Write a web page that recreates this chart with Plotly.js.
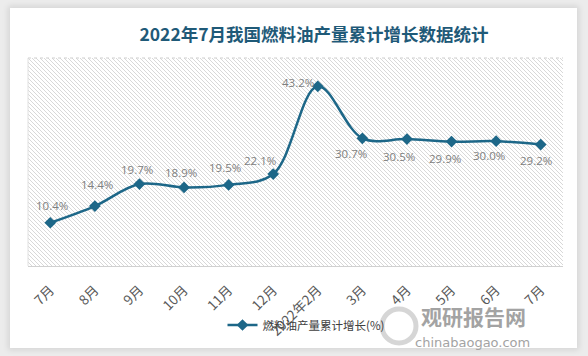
<!DOCTYPE html>
<html>
<head>
<meta charset="utf-8">
<script src="https://cdn.plot.ly/plotly-3.0.1.min.js"></script>
<style>
  html, body { margin: 0; padding: 0; background: #ececec; }
  #wrap { position: relative; width: 588px; height: 356px; overflow: hidden; background: #ececec; }
  #card { position: absolute; left: 10px; top: 8px; width: 567px; height: 340px; background: #ffffff; box-shadow: 0 0 6px 2px rgba(0,0,0,0.10); }
  #chart { position: absolute; left: 0; top: 0; width: 588px; height: 356px; }
</style>
</head>
<body>
<div id="wrap"><div id="card"></div><div id="chart"></div></div>
<script>
const categories = ["7月", "8月", "9月", "10月", "11月", "12月", "2022年2月", "3月", "4月", "5月", "6月", "7月"];
const growth = [10.4, 14.4, 19.7, 18.9, 19.5, 22.1, 43.2, 30.7, 30.5, 29.9, 30.0, 29.2];
const seriesName = "燃料油产量累计增长(%)";
const titleText = "2022年7月我国燃料油产量累计增长数据统计";

// label offsets in pixels (style only): [dx, dy up]
const labelDx = [2, 2, -2, -3, -4, -13, -20, -11, -8, -7, -7, -5];
const labelDy = [17, 22, 15, 15, 17, 14, 4, -15, -17, -17, -14, -16];

const W = 588, H = 356;
const L = 28, R = 25, T = 58, B = 90;
const pw = W - L - R, ph = H - T - B;
const px = v => (v - L) / pw;
const py = v => (H - B - v) / ph;

const idx = categories.map((_, i) => i);
const lineColor = "#1d6788";

const hatch = "<svg xmlns='http://www.w3.org/2000/svg' width='" + pw + "' height='" + ph + "'>" +
  "<defs><pattern id='p' width='4' height='4' patternUnits='userSpaceOnUse'>" +
  "<path d='M0,0 L4,4 M-1,3 L1,5 M3,-1 L5,1' stroke='#d4d4d4' stroke-width='0.9'/></pattern></defs>" +
  "<rect width='100%' height='100%' fill='url(#p)'/></svg>";
const hatchUri = "data:image/svg+xml;charset=utf-8," + encodeURIComponent(hatch);

const cjk = "'Noto Sans CJK SC', 'Noto Sans', sans-serif";

const traces = [{
  x: idx,
  y: growth,
  type: "scatter",
  mode: "lines+markers",
  name: seriesName,
  line: { color: lineColor, width: 2.5, shape: "spline", smoothing: 1 },
  marker: { symbol: "diamond", size: 9, color: lineColor },
  cliponaxis: false,
  hoverinfo: "skip"
}];

const labelAnns = growth.map((v, i) => ({
  x: idx[i], y: v, xref: "x", yref: "y",
  text: v.toFixed(1) + "%",
  showarrow: false,
  xanchor: "center", yanchor: "middle",
  xshift: labelDx[i], yshift: labelDy[i],
  font: { family: "'Open Sans', 'Noto Sans', sans-serif", size: 11.5, color: "#808080" }
}));

const layout = {
  width: W, height: H,
  margin: { l: L, r: R, t: T, b: B, pad: 0 },
  paper_bgcolor: "rgba(0,0,0,0)",
  plot_bgcolor: "#ffffff",
  font: { family: cjk },
  title: {
    text: "<b>" + titleText + "</b>",
    font: { family: cjk, size: 17.5, color: "#1f5a78" },
    x: 314 / W, xref: "container", xanchor: "center",
    y: 1 - 35 / H, yref: "container", yanchor: "middle"
  },
  xaxis: {
    range: [-0.5, categories.length - 0.5],
    tickmode: "array",
    tickvals: idx,
    ticktext: categories,
    tickangle: -45,
    tickfont: { family: cjk, size: 13.5, color: "#595959" },
    showgrid: false, zeroline: false,
    showline: true, linecolor: "#d0d0d0", linewidth: 1,
    ticks: "outside", ticklen: 10, tickcolor: "rgba(0,0,0,0)",
    fixedrange: true
  },
  yaxis: {
    range: [0, 50],
    showticklabels: false, showgrid: false, zeroline: false, showline: false,
    fixedrange: true
  },
  showlegend: true,
  legend: {
    orientation: "h",
    x: px(306), xanchor: "center",
    y: py(325), yanchor: "middle",
    font: { family: cjk, size: 11.5, color: "#404040" },
    bgcolor: "rgba(0,0,0,0)"
  },
  images: [{
    source: hatchUri,
    xref: "paper", yref: "paper",
    x: 0, y: 1, sizex: 1, sizey: 1,
    xanchor: "left", yanchor: "top",
    sizing: "stretch", layer: "below"
  }],
  shapes: [
    { type: "line", xref: "paper", yref: "paper", x0: 0, x1: 1, y0: 1, y1: 1,
      line: { color: "#cfcfcf", width: 1, dash: "dot" } },
    { type: "line", xref: "paper", yref: "paper", x0: 0, x1: 0, y0: 0, y1: 1,
      line: { color: "#e0e0e0", width: 1 } },
    { type: "circle", xref: "paper", yref: "paper",
      x0: px(382), x1: px(416), y0: py(343), y1: py(309),
      line: { color: "#d6d6d6", width: 5 }, layer: "above" }
  ],
  annotations: labelAnns.concat([
    { xref: "paper", yref: "paper", x: px(473), y: py(333), xanchor: "center", yanchor: "bottom",
      text: "<b>观研报告网</b>", showarrow: false,
      font: { family: cjk, size: 21, color: "#a3a3a3" } },
    { xref: "paper", yref: "paper", x: px(472), y: py(333), xanchor: "center", yanchor: "top",
      text: "chinabaogao.com", showarrow: false,
      font: { family: "'DejaVu Sans', sans-serif", size: 13, color: "#a3a3a3" } }
  ])
};

Plotly.newPlot("chart", traces, layout, { displayModeBar: false, staticPlot: true });
</script>
</body>
</html>
